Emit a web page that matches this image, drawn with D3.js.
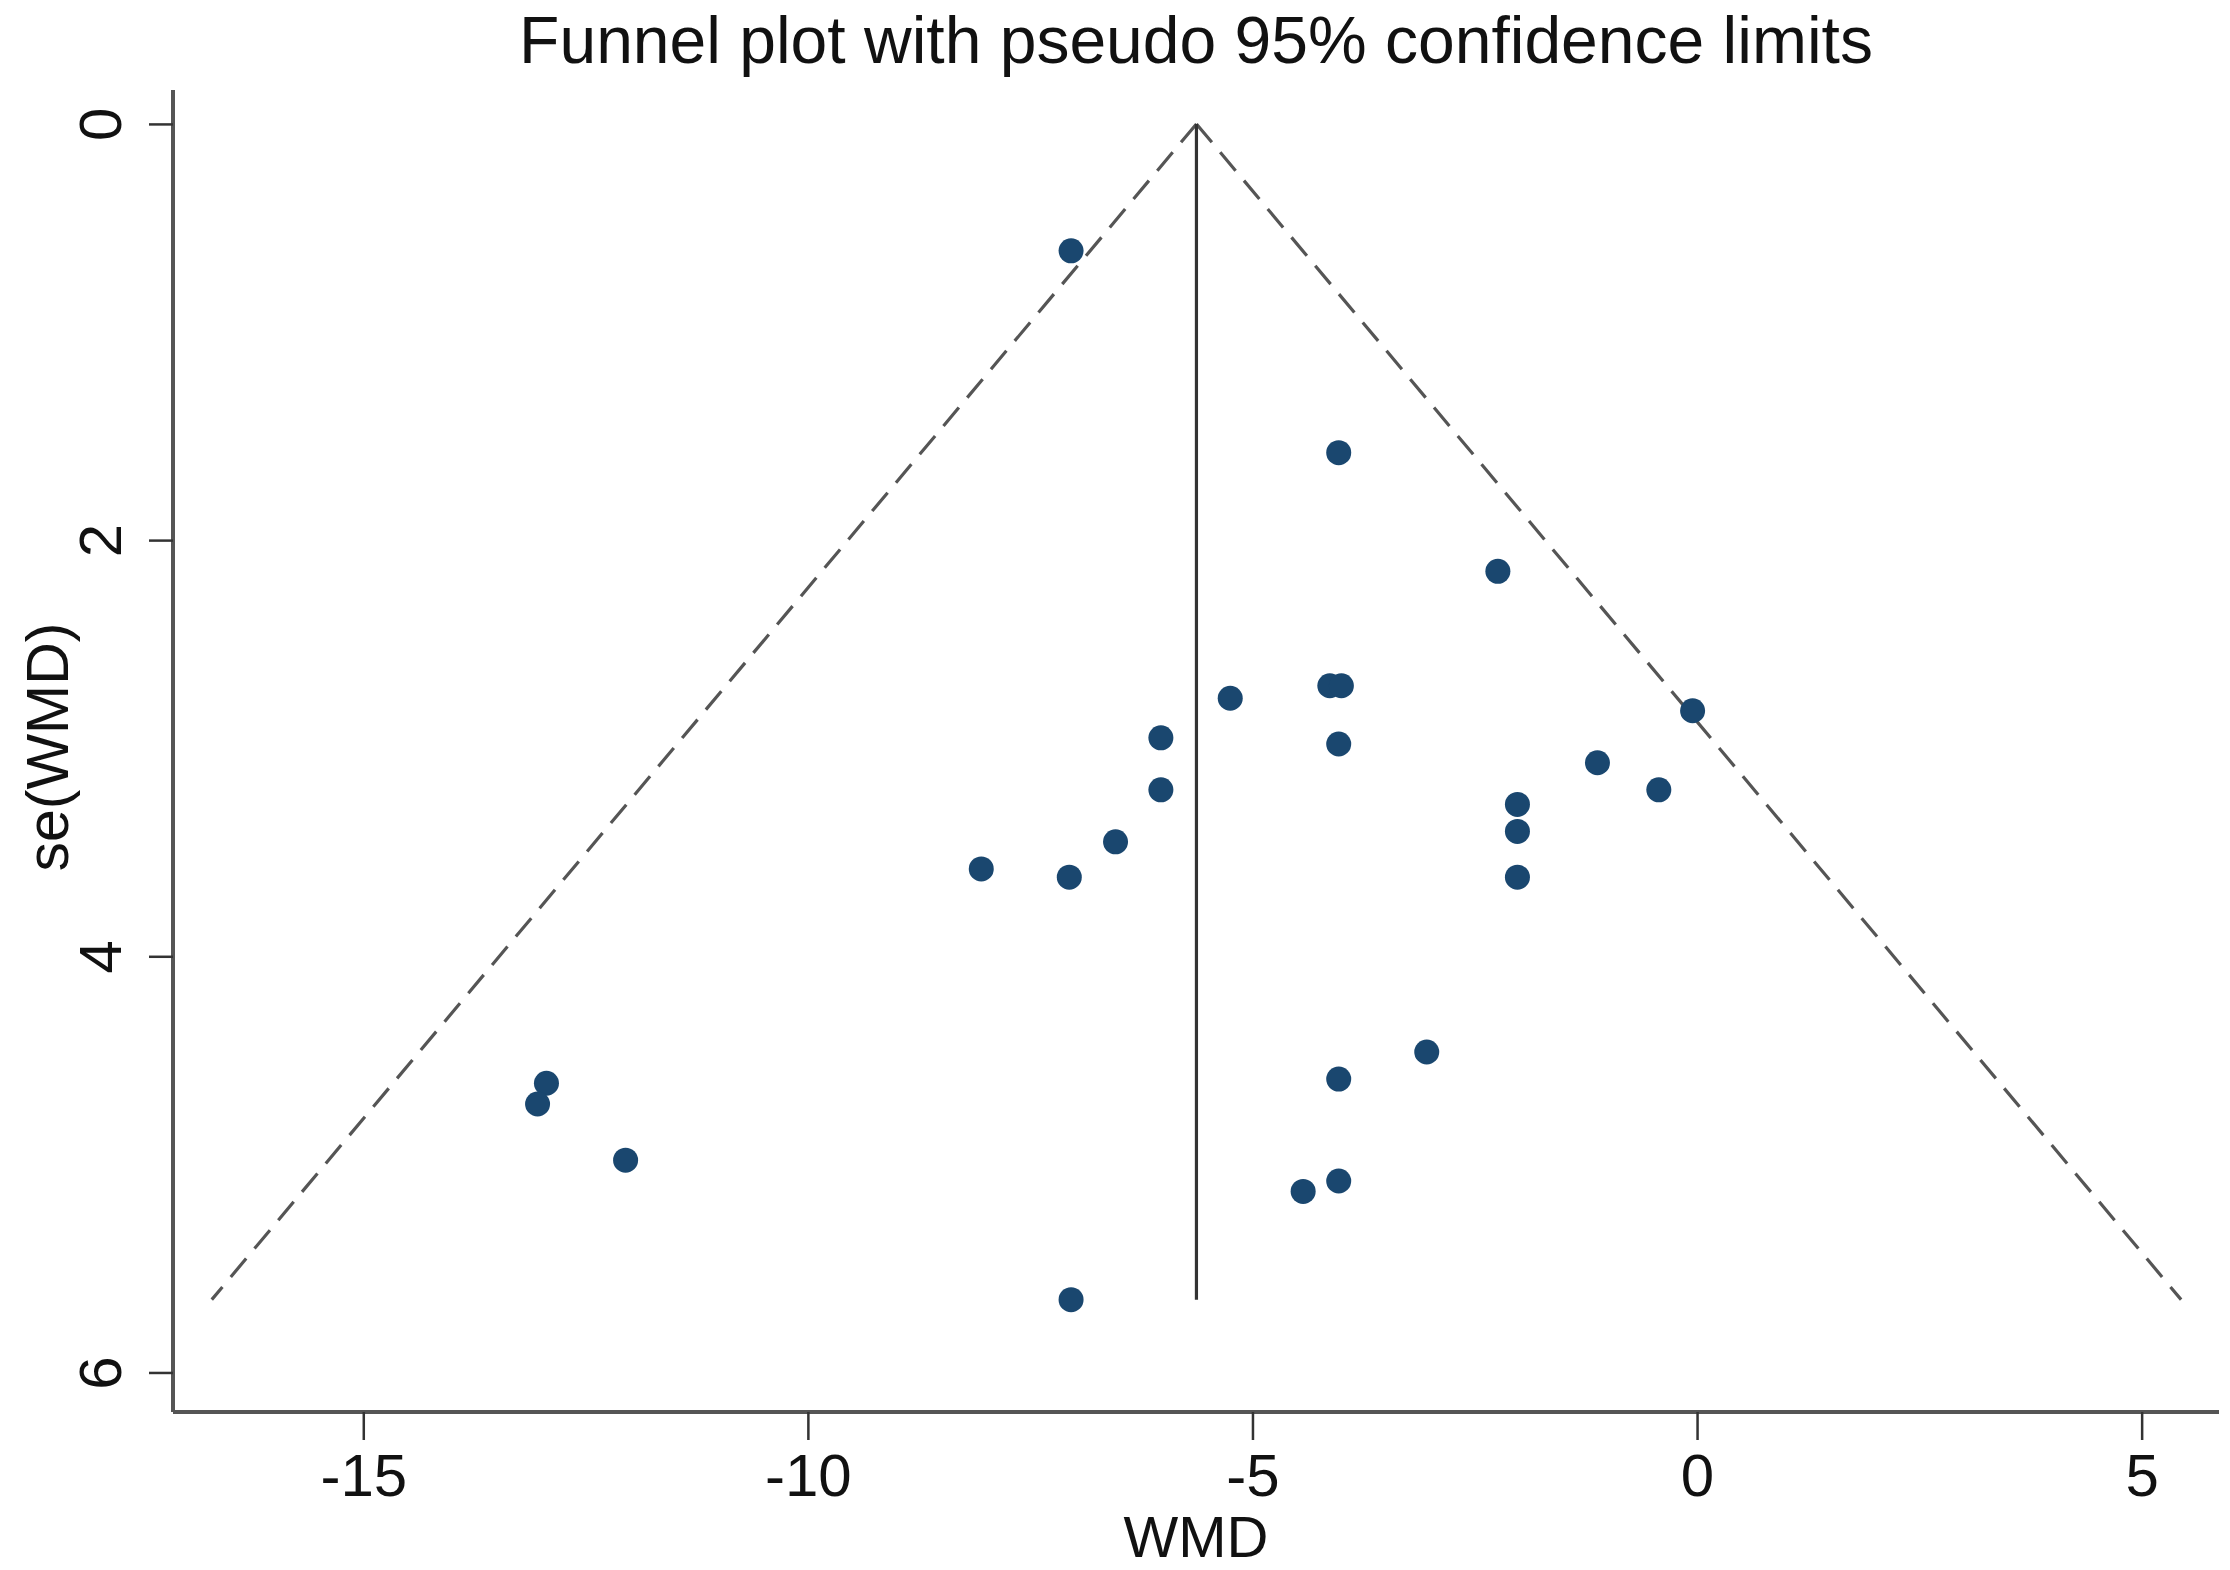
<!DOCTYPE html>
<html>
<head>
<meta charset="utf-8">
<script src="https://cdn.jsdelivr.net/npm/d3@7"></script>
<style>
  html, body { margin: 0; padding: 0; background: #fff; }
  svg { display: block; }
</style>
</head>
<body>
<svg id="chart" width="2230" height="1570"></svg>
<script>
// ---- data ----
const wmd = [-7.04, -4.03, -2.24, -5.25, -4.13, -4.0, -0.05, -6.03, -4.03, -1.12,
             -6.03, -0.43, -2.02, -2.02, -6.54, -8.05, -7.06, -2.02, -3.04, -12.94,
             -13.04, -4.03, -12.05, -4.03, -4.43, -7.04];
const seWmd = [0.61, 1.58, 2.15, 2.76, 2.70, 2.70, 2.82, 2.95, 2.98, 3.07,
               3.20, 3.20, 3.27, 3.40, 3.45, 3.58, 3.62, 3.62, 4.46, 4.61,
               4.71, 4.59, 4.98, 5.08, 5.13, 5.65];
const pooled = [-5.63];
const maxSe = [5.65];
const xTicks = [-15, -10, -5, 0, 5];
const yTicks = [0, 2, 4, 6];
const titleText = "Funnel plot with pseudo 95% confidence limits";
const xLabel = "WMD";
const yLabel = "se(WMD)";

// ---- layout ----
const svg = d3.select("#chart");
const pLeft = 173, pRight = 2219, pTop = 90, pBottom = 1412;
const x = d3.scaleLinear().domain([-17.14, 5.87]).range([pLeft, pRight]);
const y = d3.scaleLinear().domain([-0.163, 6.19]).range([pTop, pBottom]);
const font = "'Liberation Sans', Arial, sans-serif";

// title
svg.append("text")
  .attr("x", 1196).attr("y", 63)
  .attr("text-anchor", "middle")
  .attr("font-family", font).attr("font-size", 66)
  .attr("fill", "#111")
  .text(titleText);

// funnel lines
const p = pooled[0], m = maxSe[0];
const funnel = [
  [[p, 0], [p - 1.96 * m, m]],
  [[p, 0], [p + 1.96 * m, m]]
];
const line = d3.line().x(d => x(d[0])).y(d => y(d[1]));
svg.selectAll(".funnel").data(funnel).enter().append("path")
  .attr("d", line)
  .attr("fill", "none").attr("stroke", "#555")
  .attr("stroke-width", 3.2)
  .attr("stroke-dasharray", "24,13");

svg.append("path")
  .attr("d", line([[p, 0], [p, m]]))
  .attr("fill", "none").attr("stroke", "#333").attr("stroke-width", 3.2);

// points
svg.selectAll(".pt").data(wmd.map((v, i) => [v, seWmd[i]])).enter().append("circle")
  .attr("cx", d => x(d[0])).attr("cy", d => y(d[1]))
  .attr("r", 12.5).attr("fill", "#1a476f");

// axes
const xAxis = d3.axisBottom(x).tickValues(xTicks).tickSize(28).tickPadding(13)
  .tickFormat(d => d < 0 ? "-" + Math.abs(d) : String(d));
const gx = svg.append("g").attr("transform", `translate(0,${pBottom})`).call(xAxis);
gx.select(".domain").attr("d", `M${pLeft},0H${pRight}`).attr("stroke", "#555").attr("stroke-width", 4);
gx.selectAll(".tick line").attr("stroke", "#333").attr("stroke-width", 2.5);
gx.selectAll(".tick text").attr("font-family", font).attr("font-size", 60).attr("fill", "#111");

const yAxis = d3.axisLeft(y).tickValues(yTicks).tickSize(24).tickPadding(0)
  .tickFormat(d3.format("d"));
const gy = svg.append("g").attr("transform", `translate(${pLeft},0)`).call(yAxis);
gy.select(".domain").attr("d", `M0,${pTop}V${pBottom}`).attr("stroke", "#555").attr("stroke-width", 4);
gy.selectAll(".tick line").attr("stroke", "#333").attr("stroke-width", 2.5);
gy.selectAll(".tick text")
  .attr("font-family", font).attr("font-size", 60).attr("fill", "#111")
  .attr("x", null).attr("dy", null)
  .attr("text-anchor", "middle")
  .attr("transform", "translate(-73,0) rotate(-90)")
  .attr("y", 0)
  .attr("dominant-baseline", "central");

// axis labels
svg.append("text")
  .attr("x", 1196).attr("y", 1557)
  .attr("text-anchor", "middle")
  .attr("font-family", font).attr("font-size", 58).attr("fill", "#111")
  .text(xLabel);

svg.append("text")
  .attr("transform", "translate(48,747) rotate(-90)")
  .attr("text-anchor", "middle").attr("dominant-baseline", "central")
  .attr("font-family", font).attr("font-size", 59).attr("fill", "#111")
  .text(yLabel);
</script>
</body>
</html>
